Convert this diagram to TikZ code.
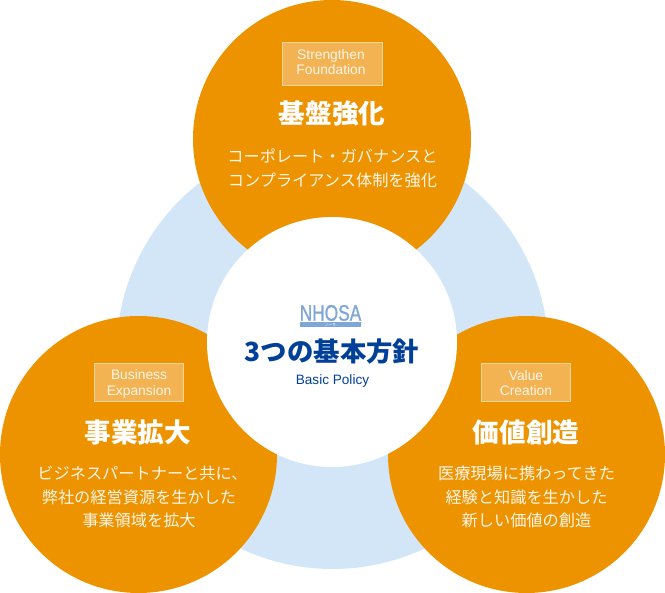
\documentclass[tikz,border=0pt]{standalone}
\usepackage{fontspec}
\setmainfont{Liberation Sans}
\newfontfamily\jp{Noto Sans CJK JP}
\newfontfamily\logofont[FakeBold=1.2]{Liberation Sans}
\definecolor{petal}{HTML}{EE9300}
\definecolor{ringblue}{HTML}{D3E6F7}
\definecolor{tagfill}{HTML}{F4B353}
\definecolor{tagline}{HTML}{F9D6A0}
\definecolor{softwhite}{HTML}{FFF6E8}
\definecolor{navy}{HTML}{004098}
\definecolor{logoblue}{HTML}{7FA6D8}
\tikzset{
  petalc/.style={circle,fill=petal,minimum size=277pt,inner sep=0pt},
  tagbox/.style={draw=tagline,line width=0.9pt,fill=tagfill,inner sep=0pt},
  tagtext/.style={text=softwhite,inner sep=0pt,align=center,font=\fontsize{13.8}{15.8}\selectfont},
  headline/.style={text=white,font=\jp\bfseries\fontsize{26.6}{30}\selectfont,inner sep=0pt},
  bodytext/.style={text=softwhite,align=center,inner sep=0pt,font=\jp\fontsize{16.2}{23.5}\selectfont}
}
\begin{document}
\begin{tikzpicture}[x=1pt,y=-1pt]
\useasboundingbox (0,0) rectangle (665,593);
\node[circle,fill=ringblue,minimum size=432pt,inner sep=0pt] (ring) at (332.5,353) {};
\node[petalc,minimum size=278pt] (top) at (332,139) {};
\node[petalc] (left) at (138.5,454.5) {};
\node[petalc] (right) at (526.5,454.5) {};
\node[circle,fill=white,minimum size=250pt,inner sep=0pt] (core) at (332,342) {};

\node[tagbox,minimum width=100pt,minimum height=43pt] (tagT) at (332,63.5) {};
\node[tagtext] (tagTtext) at (331,62) {Strengthen\\Foundation};
\node[headline] (headT) at (332,113) {基盤強化};
\node[bodytext] (bodyT) at (332.5,168.5) {コーポレート・ガバナンスと\\コンプライアンス体制を強化};

\node[tagbox,minimum width=89pt,minimum height=38pt] (tagL) at (139,382) {};
\node[tagtext] (tagLtext) at (139,384) {Business\\Expansion};
\node[headline] (headL) at (138,432) {事業拡大};
\node[bodytext] (bodyL) at (139,497) {\hspace*{7pt}ビジネスパートナーと共に、\\弊社の経営資源を生かした\\事業領域を拡大};

\node[tagbox,minimum width=89pt,minimum height=38pt] (tagR) at (526,382) {};
\node[tagtext] (tagRtext) at (526,383) {Value\\Creation};
\node[headline] (headR) at (526,432) {価値創造};
\node[bodytext] (bodyR) at (526.5,497) {医療現場に携わってきた\\経験と知識を生かした\\新しい価値の創造};

% logotype: condensed letters above a solid bar with small kana
\node[text=logoblue,inner sep=0pt,font=\logofont\fontsize{22.5}{24}\selectfont] (logo) at (330.5,313) {\scalebox{.77}[1]{NHOSA}};
\fill[logoblue] (300,322.5) rectangle (361,327);
\node[text=white,inner sep=0pt,font=\jp\fontsize{3.8}{4}\selectfont] (logokana) at (330.5,325.2) {ノーサ};

\node[text=navy,inner sep=0pt,font=\jp\bfseries\fontsize{26.4}{30}\selectfont] (title) at (332,352) {3つの基本方針};
\node[text=navy,inner sep=0pt,font=\fontsize{13.6}{15}\selectfont] (sub) at (332.5,380.5) {Basic Policy};
\end{tikzpicture}
\end{document}
